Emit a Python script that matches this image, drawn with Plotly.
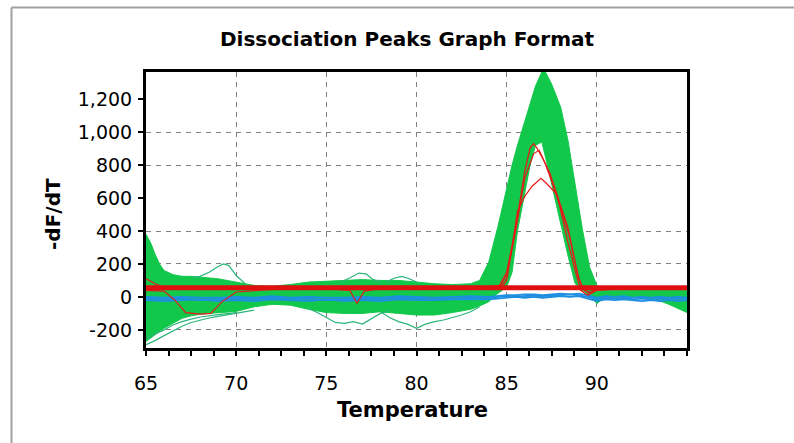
import plotly.graph_objects as go

# ---------------- data ----------------
T_RANGE = [65, 95]
DFDT_RANGE = [-310, 1365]
X_TICKS = [65, 70, 75, 80, 85, 90]
Y_TICKS = [-200, 0, 200, 400, 600, 800, 1000, 1200]
Y_GRID = [-200, 0, 200, 400, 800, 1000]
THRESHOLD = 55

# envelope of the dense bundle of green (sample) melt curves, on one temperature grid
ENV_T = [65, 65.25, 65.5, 65.75, 66, 66.5, 67, 67.5, 68, 68.5, 69, 69.5, 70, 71, 72, 73, 74, 75, 76,
         77, 78, 79, 80, 81, 82, 83, 83.5, 84, 84.5, 85, 85.3, 85.6, 86, 86.3, 86.6, 86.95, 87.15,
         87.5, 88, 88.4, 88.8, 89.2, 89.6, 90, 90.3, 90.7, 91.5, 92.5, 93, 93.5, 94, 94.5, 95]
GREEN_UPPER_V = [380, 330, 260, 200, 160, 135, 125, 125, 120, 115, 110, 100, 90, 70, 65, 75, 90, 95,
                 100, 105, 100, 100, 90, 80, 75, 80, 100, 210, 420, 670, 800, 920, 1065, 1175, 1280,
                 1365, 1365, 1290, 1150, 950, 690, 410, 180, 70, 45, 40, 40, 42, 45, 45, 45, 42, 40]
GREEN_LOWER_V = [-270, -250, -230, -210, -190, -160, -130, -115, -105, -100, -95, -92, -88, -60, -45,
                 -50, -75, -95, -100, -100, -90, -100, -110, -110, -95, -75, -55, -30, 20, 60, 150,
                 400, 620, 800, 920, 940, 850, 680, 450, 250, 80, 40, 10, -40, -15, -5, 0, -5, -10,
                 -25, -45, -70, -95]

# individual stray green curves
STRAY1_T = [67.5, 68, 68.5, 69, 69.3, 69.6, 70, 70.5]
STRAY1_V = [115, 125, 150, 185, 200, 190, 130, 80]
STRAY2_T = [65, 65.5, 66, 66.5, 67, 67.5, 68, 68.5, 69, 70, 71]
STRAY2_V = [-290, -265, -235, -205, -178, -155, -140, -128, -118, -100, -80]
STRAY3_T = [65, 65.5, 66, 66.5, 67, 67.5, 68, 69, 70]
STRAY3_V = [-250, -225, -200, -170, -150, -135, -122, -108, -95]
STRAY4_T = [74, 74.5, 75, 75.5, 76, 76.5, 77, 77.5, 78, 78.5]
STRAY4_V = [-70, -95, -125, -155, -160, -150, -165, -135, -100, -85]
STRAY5_T = [78, 78.5, 79, 79.5, 80, 80.5, 81, 81.5, 82, 82.5, 83, 83.5]
STRAY5_V = [-90, -125, -150, -165, -190, -165, -150, -140, -125, -110, -90, -60]
STRAY6_T = [75.8, 76.3, 76.8, 77.2, 77.6, 78.1]
STRAY6_V = [90, 115, 145, 140, 105, 85]
STRAY7_T = [78.3, 78.8, 79.2, 79.6, 80.1]
STRAY7_V = [90, 115, 125, 110, 85]

# red curves
RED1_T = [65, 65.5, 66, 67, 68, 70, 72, 75, 78, 80, 82, 84, 84.6, 85, 85.5, 86, 86.3, 86.5, 86.7, 87,
          87.4, 87.9, 88.4, 88.8, 89.0, 89.3, 89.6, 90, 91, 93, 95]
RED1_V = [110, 80, 60, 55, 58, 55, 52, 56, 55, 58, 55, 55, 70, 150, 420, 760, 905, 930, 900, 840,
          750, 590, 420, 210, 110, 40, 30, 50, 55, 52, 55]
RED2_T = [65, 66, 66.6, 67.2, 68, 68.6, 69.2, 70, 72, 74, 76, 78, 80, 82, 84, 84.7, 85, 85.5, 86, 86.5,
          86.8, 87.1, 87.5, 88, 88.5, 88.9, 89.2, 89.6, 90, 92, 95]
RED2_V = [40, 35, -20, -95, -105, -100, -30, 30, 45, 50, 50, 55, 50, 55, 50, 70, 130, 400, 720, 870,
          890, 820, 700, 540, 360, 150, 50, 20, 45, 55, 50]
RED3_T = [65, 67, 70, 73, 75, 76.3, 76.7, 77.1, 78, 80, 83, 84.8, 85, 85.3, 85.6, 86, 86.4, 86.9, 87.2,
          87.8, 88.05, 88.4, 88.8, 89.1, 89.5, 90, 92, 95]
RED3_V = [60, 55, 50, 55, 50, 40, -40, 35, 50, 55, 55, 70, 100, 300, 520, 610, 670, 720, 690,
          620, 490, 330, 160, 40, 10, 40, 55, 55]

# blue (no-template) curves
BLUE_T = [65, 66, 67, 68, 69, 70, 71, 72, 73, 74, 75, 76, 77, 78, 79, 80, 81, 82, 83, 84, 84.5, 85,
          85.5, 86, 86.5, 87, 87.5, 88, 88.5, 89, 89.5, 90, 90.5, 91, 91.5, 92, 92.5, 93, 93.5, 94,
          94.5, 95]
BLUE1_V = [-10, -15, -10, -20, -15, -10, -15, -5, -15, -10, -20, -15, -10, -15, -5, -10, -15, -10, -5,
           -5, 0, 5, 0, 5, 10, 5, 10, 10, 15, 10, 0, -15, -5, -10, -5, -15, -10, -15, -10, -15, -10, -15]
BLUE2_V = [-20, -25, -20, -15, -25, -20, -25, -15, -20, -25, -15, -25, -20, -25, -15, -20, -20, -15,
           -15, -15, -10, -5, 0, -5, 0, -5, 0, 5, 0, 5, -10, -25, -15, -20, -15, -20, -25, -20, -25,
           -20, -25, -20]
BLUE3_V = [0, -5, 0, -5, -5, 0, -5, 5, -5, 0, -5, -5, 0, -5, 5, 0, -5, 0, 5, 0, 5, 10, 10, 15, 15, 10,
           15, 20, 15, 20, 10, -5, 5, 0, 5, -5, 0, -5, 0, -5, 0, -5]

# ---------------- styles ----------------
GREEN = "#12c84b"
STRAY = "#2bb57a"
RED = "#e81818"
BLUE = "#1e8fe0"
THR_RED = "#e01010"
GRID = "#808080"
FONT = "DejaVu Sans"

fig = go.Figure()

# green bundle drawn as the band between its lower and upper envelope
fig.add_trace(go.Scatter(x=ENV_T, y=GREEN_LOWER_V, mode="lines",
                         line=dict(color=GREEN, width=1), hoverinfo="skip"))
fig.add_trace(go.Scatter(x=ENV_T, y=GREEN_UPPER_V, mode="lines", fill="tonexty",
                         fillcolor=GREEN, line=dict(color=GREEN, width=1), hoverinfo="skip"))

for tx, vy in [(STRAY1_T, STRAY1_V), (STRAY2_T, STRAY2_V), (STRAY3_T, STRAY3_V),
               (STRAY4_T, STRAY4_V), (STRAY5_T, STRAY5_V), (STRAY6_T, STRAY6_V),
               (STRAY7_T, STRAY7_V)]:
    fig.add_trace(go.Scatter(x=tx, y=vy, mode="lines", line=dict(color=STRAY, width=1.2)))

for vy in [BLUE2_V, BLUE1_V, BLUE3_V]:
    fig.add_trace(go.Scatter(x=BLUE_T, y=vy, mode="lines", line=dict(color=BLUE, width=1.8)))

for tx, vy in [(RED1_T, RED1_V), (RED2_T, RED2_V), (RED3_T, RED3_V)]:
    fig.add_trace(go.Scatter(x=tx, y=vy, mode="lines", line=dict(color=RED, width=1.2)))

# threshold line on overlay axis (that axis also carries the partial gridlines)
fig.add_trace(go.Scatter(x=T_RANGE, y=[THRESHOLD, THRESHOLD], mode="lines",
                         line=dict(color=THR_RED, width=5), yaxis="y2"))

tickfont = dict(family=FONT, size=19, color="black")

fig.update_layout(
    width=794, height=443, autosize=False,
    margin=dict(l=146, r=107, t=72, b=95, pad=0),
    paper_bgcolor="white", plot_bgcolor="white",
    showlegend=False,
    title=dict(text="Dissociation Peaks Graph Format", x=0.5126, y=0.912,
               xanchor="center", yanchor="middle", xref="container", yref="container",
               font=dict(family=FONT, size=20, color="black", weight="bold")),
    xaxis=dict(range=T_RANGE, tickmode="array", tickvals=X_TICKS,
               ticktext=[str(v) for v in X_TICKS],
               ticks="outside", ticklen=5, tickwidth=1.5, tickcolor="black",
               showline=True, linewidth=3, linecolor="black", mirror=True,
               showgrid=True, gridcolor=GRID, gridwidth=1, griddash="5px,5px",
               zeroline=False, tickfont=tickfont, ticklabelstandoff=11,
               minor=dict(tick0=65, dtick=1.25, ticks="outside", ticklen=5, tickwidth=1.5,
                          tickcolor="black", showgrid=False)),
    yaxis=dict(range=DFDT_RANGE, tickmode="array", tickvals=Y_TICKS,
               ticktext=[f"{v:,}" for v in Y_TICKS],
               ticks="outside", ticklen=5, tickwidth=1.5, tickcolor="black",
               showline=True, linewidth=3, linecolor="black", mirror=True,
               showgrid=False, zeroline=False, tickfont=tickfont, ticklabelstandoff=2),
    yaxis2=dict(range=DFDT_RANGE, overlaying="y", side="left", tickmode="array",
                tickvals=Y_GRID, showticklabels=False, ticks="", showline=False,
                showgrid=True, gridcolor=GRID, gridwidth=1, griddash="5px,5px",
                zeroline=False),
    annotations=[
        dict(text="Temperature", xref="paper", yref="paper", x=0.4935, y=-0.2246,
             xanchor="center", yanchor="middle", showarrow=False,
             font=dict(family=FONT, size=21, color="black", weight="bold")),
        dict(text="-dF/dT", xref="paper", yref="paper", x=-0.172, y=0.4855,
             xanchor="center", yanchor="middle", showarrow=False, textangle=-90,
             font=dict(family=FONT, size=20, color="black", weight="bold")),
    ],
    shapes=[
        dict(type="line", xref="paper", yref="paper", x0=-0.2486, x1=1.4, y0=1.2337, y1=1.2337,
             line=dict(color="#a0a0a0", width=2)),
        dict(type="line", xref="paper", yref="paper", x0=-0.2486, x1=-0.2486, y0=-0.6, y1=1.2337,
             line=dict(color="#a0a0a0", width=2)),
    ],
)

fig.write_html("out.html", config={"displayModeBar": False},
               post_script="document.body.style.margin='0';document.body.style.overflow='hidden';")
